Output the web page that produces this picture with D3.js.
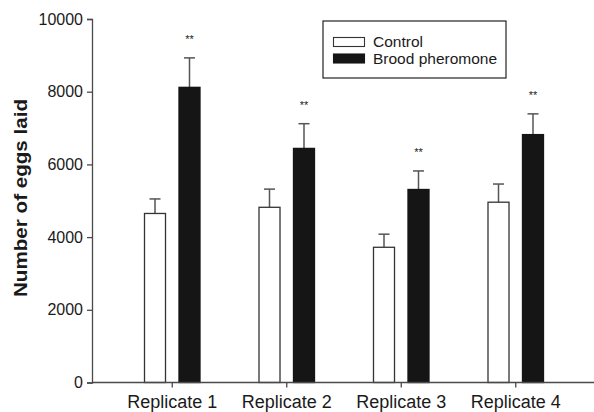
<!DOCTYPE html>
<html>
<head>
<meta charset="utf-8">
<script src="https://cdn.jsdelivr.net/npm/d3@7"></script>
<style>
  body { margin: 0; background: #fff; }
  text { font-family: "Liberation Sans", Arial, sans-serif; fill: #1a1a1a; }
</style>
</head>
<body>
<script>
// values
const categories = ["Replicate 1", "Replicate 2", "Replicate 3", "Replicate 4"];
const series = ["Control", "Brood pheromone"];
const control = [4650, 4820, 3720, 4960];
const controlErr = [400, 500, 360, 500];
const brood = [8120, 6440, 5310, 6820];
const broodErr = [810, 680, 510, 570];
const marks = ["**", "**", "**", "**"];
const yTicks = [0, 2000, 4000, 6000, 8000, 10000];

const width = 594, height = 412;

const svg = d3.select("body").append("svg")
  .attr("width", width)
  .attr("height", height);

// x: one band per replicate, then a sub band per series
const x0 = d3.scaleBand().domain(categories).range([115, 573]);
const x1 = d3.scaleBand().domain(series).range([-27.75, 27.75]).paddingInner(0.391);
const y = d3.scaleLinear().domain([0, 10000]).range([382.5, 19]);

const rows = categories.map((c, i) => [
  { cat: c, s: series[0], v: control[i], e: controlErr[i] },
  { cat: c, s: series[1], v: brood[i], e: broodErr[i] }
]).flat();

const axisColor = "#4a4a4a";

// error bars (drawn first so the bar top covers the stem)
const eb = svg.append("g").attr("class", "errbars");
rows.forEach(d => {
  const cx = x0(d.cat) + x0.bandwidth() / 2 + x1(d.s) + x1.bandwidth() / 2;
  eb.append("line")
    .attr("x1", cx).attr("x2", cx)
    .attr("y1", y(d.v)).attr("y2", y(d.v + d.e))
    .attr("stroke", "#555").attr("stroke-width", 1.5);
  eb.append("line")
    .attr("x1", cx - 5.5).attr("x2", cx + 5.5)
    .attr("y1", y(d.v + d.e)).attr("y2", y(d.v + d.e))
    .attr("stroke", "#555").attr("stroke-width", 1.5);
});

// bars
svg.append("g").selectAll("rect")
  .data(rows)
  .enter()
  .append("rect")
  .attr("x", d => x0(d.cat) + x0.bandwidth() / 2 + x1(d.s))
  .attr("width", x1.bandwidth())
  .attr("y", d => y(d.v))
  .attr("height", d => y(0) - y(d.v))
  .attr("fill", d => d.s === series[0] ? "#fff" : "#151515")
  .attr("stroke", d => d.s === series[0] ? "#333" : "#151515")
  .attr("stroke-width", 1.3);

// significance stars above brood bars
svg.append("g").selectAll("text")
  .data(categories)
  .enter()
  .append("text")
  .attr("x", (c, i) => x0(c) + x0.bandwidth() / 2 + x1(series[1]) + x1.bandwidth() / 2)
  .attr("y", (c, i) => y(brood[i] + broodErr[i]) - 15)
  .attr("text-anchor", "middle")
  .attr("font-size", 11)
  .attr("fill", "#222")
  .text((c, i) => marks[i]);

// y axis
const yAxis = svg.append("g")
  .attr("transform", `translate(92,0)`)
  .call(d3.axisLeft(y).tickValues(yTicks).tickFormat(d3.format("d")).tickSize(5).tickPadding(4));
yAxis.select(".domain").attr("stroke", axisColor).attr("stroke-width", 1.3);
yAxis.selectAll(".tick line").attr("stroke", axisColor).attr("stroke-width", 1.3);
yAxis.selectAll(".tick text").attr("font-size", 16).attr("fill", "#1a1a1a")
  .attr("font-family", "Liberation Sans, Arial, sans-serif");

// x axis
const xAxis = svg.append("g")
  .attr("transform", `translate(0,${y(0)})`)
  .call(d3.axisBottom(x0).tickSize(5).tickSizeOuter(0).tickPadding(8));
xAxis.select(".domain").attr("d", `M92,0H${width}`).attr("stroke", axisColor).attr("stroke-width", 1.3);
xAxis.selectAll(".tick line").attr("stroke", axisColor).attr("stroke-width", 1.3);
xAxis.selectAll(".tick text").attr("font-size", 18).attr("fill", "#1a1a1a")
  .attr("font-family", "Liberation Sans, Arial, sans-serif");

// y axis title
svg.append("text")
  .attr("transform", "translate(27,198) rotate(-90)")
  .attr("text-anchor", "middle")
  .attr("font-size", 18)
  .attr("font-weight", "bold")
  .attr("textLength", 198)
  .attr("lengthAdjust", "spacingAndGlyphs")
  .text("Number of eggs laid");

// legend
const lg = svg.append("g").attr("transform", "translate(323,21)");
lg.append("rect")
  .attr("width", 183).attr("height", 57)
  .attr("fill", "#fff").attr("stroke", "#222").attr("stroke-width", 1.2);
series.forEach((s, i) => {
  lg.append("rect")
    .attr("x", 10.5).attr("y", 16.5 + i * 16.5)
    .attr("width", 31).attr("height", 9)
    .attr("fill", i === 0 ? "#fff" : "#151515")
    .attr("stroke", i === 0 ? "#333" : "#151515")
    .attr("stroke-width", 1.1);
  lg.append("text")
    .attr("x", 50).attr("y", 26 + i * 17)
    .attr("font-size", 15.5)
    .text(s);
});
</script>
</body>
</html>
